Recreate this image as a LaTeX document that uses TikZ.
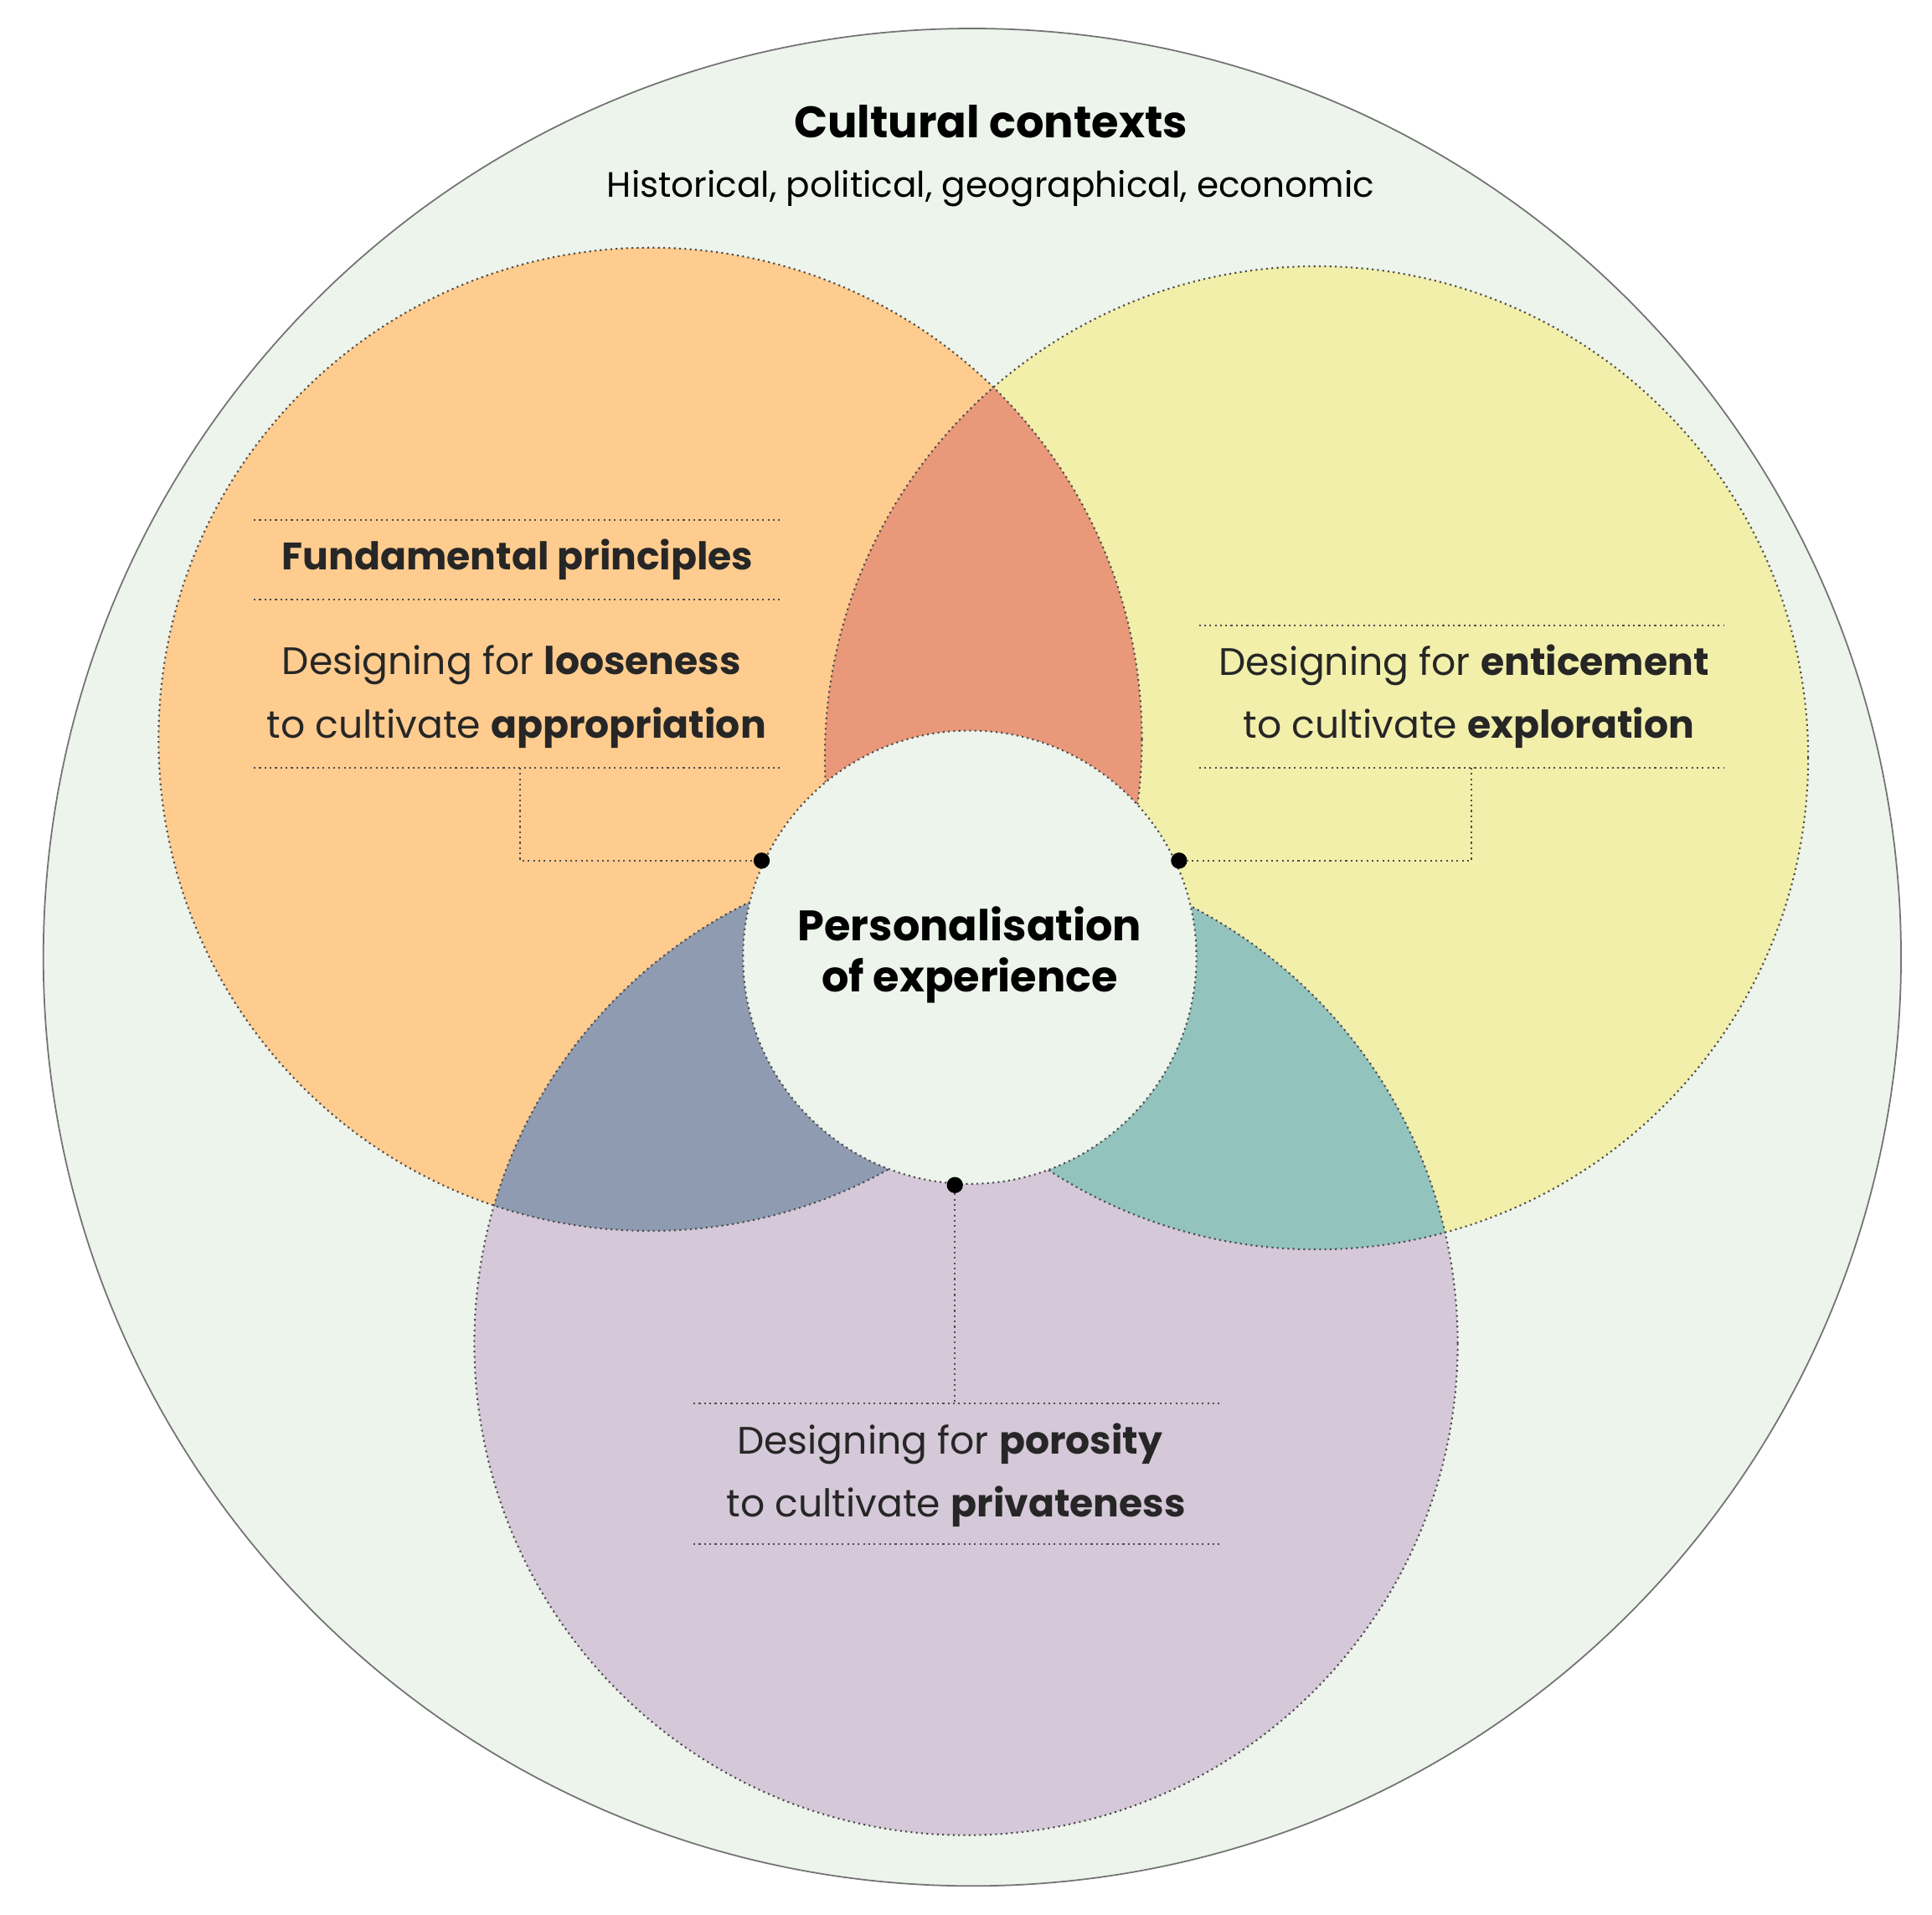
\documentclass[tikz,border=0pt]{standalone}
\usepackage{fontspec}
\setmainfont{Poppins}
\begin{document}
\begin{tikzpicture}[x=0.02958cm,y=-0.02958cm,
  dot/.style={line width=1.2pt,dash pattern=on 1.2pt off 2.4pt,draw=black!70},
  lbl/.style={font=\fontsize{26}{31}\selectfont,text=black!85},
  pt/.style={circle,fill=black,inner sep=0,minimum size=11pt}]
\definecolor{bg}{HTML}{EDF4EC}
\definecolor{cO}{HTML}{FFCC8F}
\definecolor{cY}{HTML}{F2EFAB}
\definecolor{cP}{HTML}{D5C8D8}
\definecolor{cOY}{HTML}{E9987A}
\definecolor{cOP}{HTML}{8E9BB0}
\definecolor{cYP}{HTML}{92C3BC}
\useasboundingbox (0,0) rectangle (1560,1546);
\fill[white] (0,0) rectangle (1560,1546);
\draw[fill=bg,draw=black!55,line width=1pt] (785,773) circle (750);
\coordinate (O) at (525,597);
\coordinate (Y) at (1063,612);
\coordinate (P) at (780,1085);
\fill[cO] (O) circle (397);
\fill[cY] (Y) circle (397);
\fill[cP] (P) circle (397);
\begin{scope}\clip (O) circle (397); \fill[cOY] (Y) circle (397); \fill[cOP] (P) circle (397);\end{scope}
\begin{scope}\clip (Y) circle (397); \fill[cYP] (P) circle (397);\end{scope}
\draw[dot] (O) circle (397);
\draw[dot] (Y) circle (397);
\draw[dot] (P) circle (397);
\node[circle,fill=bg,dot,minimum size=10.83cm,inner sep=0] (C) at (783,773) {};
\node[font=\fontsize{29}{35}\selectfont\bfseries,align=center] (ctr) at (783,771) {Personalisation\\of experience};
\node[font=\fontsize{30}{36}\selectfont\bfseries] (t) at (800,98) {Cultural contexts};
\node[font=\fontsize{24}{30}\selectfont] (st) at (800,152) {Historical, political, geographical, economic};
% left
\coordinate (l1a) at (205,420); \coordinate (l1b) at (630,420);
\coordinate (l2a) at (205,484); \coordinate (l2b) at (630,484);
\coordinate (l3a) at (205,620); \coordinate (l3b) at (630,620);
\draw[dot] (l1a)--(l1b); \draw[dot] (l2a)--(l2b); \draw[dot] (l3a)--(l3b);
\node[lbl,font=\fontsize{26}{31}\selectfont\bfseries] (fp) at (418,452) {Fundamental principles};
\node[lbl] (la) at (413,537) {Designing for \textbf{looseness}};
\node[lbl] (lb) at (417,588) {to cultivate \textbf{appropriation}};
\node[pt] (dl) at (615,695) {};
\coordinate (cl) at (420,620);
\draw[dot] (cl) |- (dl);
% right
\coordinate (r1a) at (968,505); \coordinate (r1b) at (1392,505);
\coordinate (r2a) at (968,620); \coordinate (r2b) at (1392,620);
\draw[dot] (r1a)--(r1b); \draw[dot] (r2a)--(r2b);
\node[lbl] (ra) at (1182,537) {Designing for \textbf{enticement}};
\node[lbl] (rb) at (1186,588) {to cultivate \textbf{exploration}};
\node[pt] (dr) at (952,695) {};
\coordinate (cr) at (1188,620);
\draw[dot] (cr) |- (dr);
% bottom
\coordinate (b1a) at (560,1133); \coordinate (b1b) at (985,1133);
\coordinate (b2a) at (560,1247); \coordinate (b2b) at (985,1247);
\draw[dot] (b1a)--(b1b); \draw[dot] (b2a)--(b2b);
\node[lbl] (ba) at (767,1166) {Designing for \textbf{porosity}};
\node[lbl] (bb) at (772,1217) {to cultivate \textbf{privateness}};
\node[pt] (db) at (771,957) {};
\coordinate (cb) at (771,1133);
\draw[dot] (db) -- (cb);
\end{tikzpicture}
\end{document}
